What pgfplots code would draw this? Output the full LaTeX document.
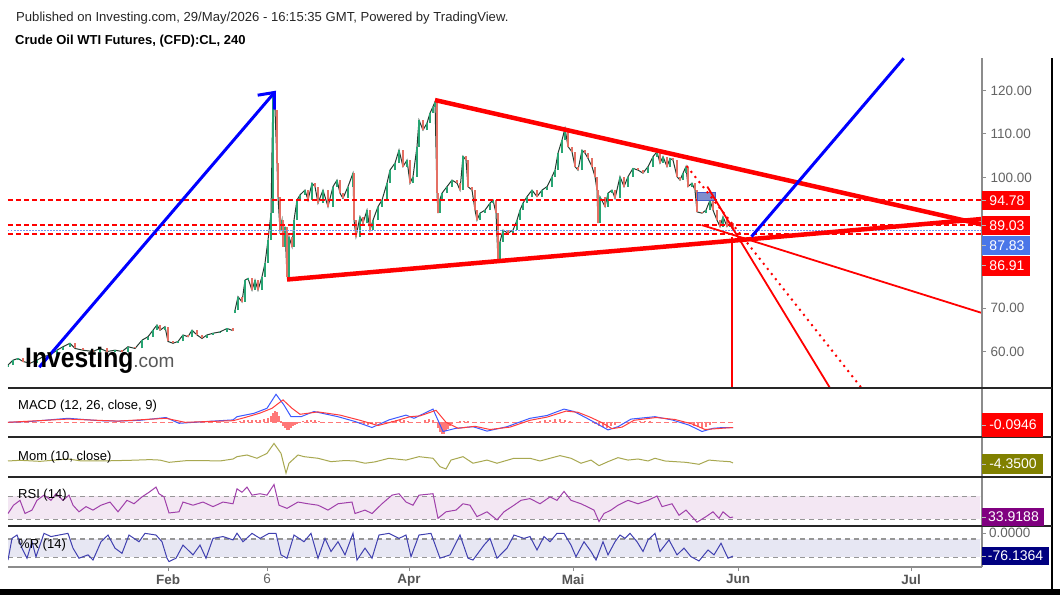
\documentclass[border=0pt]{standalone}
\usepackage{pgfplots}
\pgfplotsset{compat=1.18}
\usepackage{pgfplotstable}
\usepackage{fontspec}
\setmainfont{Liberation Sans}
\usetikzlibrary{arrows.meta}

\definecolor{cgreen}{RGB}{40,165,115}
\definecolor{cred}{RGB}{228,112,100}
\definecolor{wick}{RGB}{36,60,48}
\definecolor{axgrey}{RGB}{140,140,140}
\definecolor{ticklab}{RGB}{100,100,100}
\definecolor{datelab}{RGB}{85,85,85}
\definecolor{lblue}{RGB}{120,150,240}
\definecolor{boxblue}{RGB}{74,118,232}
\definecolor{macdblue}{RGB}{60,90,255}
\definecolor{macdred}{RGB}{255,60,60}
\definecolor{histred}{RGB}{255,120,120}
\definecolor{momcol}{RGB}{168,168,80}
\definecolor{momolive}{RGB}{128,128,0}
\definecolor{rsicol}{RGB}{160,64,170}
\definecolor{rsifill}{RGB}{243,231,243}
\definecolor{rsibox}{RGB}{128,0,128}
\definecolor{wrcol}{RGB}{64,64,176}
\definecolor{wrfill}{RGB}{231,231,243}
\definecolor{wrbox}{RGB}{0,0,128}
\definecolor{dashgrey}{RGB}{150,150,150}
\definecolor{rectfill}{RGB}{128,142,205}
\definecolor{rectedge}{RGB}{70,90,200}

% x = chart position (pixels from left), o = open, c = close
\pgfplotstableread{
x o c
8 56.5 56.9
13 56.9 58.0
18 58.0 58.4
23 58.4 57.7
30 57.7 57.3
37 57.3 58.0
43 58.0 58.8
50 58.8 59.2
57 59.2 60.3
63 60.3 61.1
70 61.1 61.9
75 61.9 60.7
83 60.7 60.3
93 60.3 60.0
100 60.0 60.7
107 60.7 60.0
115 60.0 60.3
122 60.3 60.0
128 60.0 61.1
135 61.1 60.7
142 60.7 62.6
148 62.6 63.4
153 63.4 64.9
157 64.9 66.1
160 66.1 64.9
165 64.9 65.7
168 65.7 62.3
173 62.3 61.9
178 61.9 62.3
183 62.3 63.8
188 63.8 63.4
192 63.4 64.9
197 64.9 63.8
202 63.8 63.0
207 63.0 63.8
213 63.8 64.2
220 64.2 64.5
227 64.5 65.3
233 65.3 64.8
}\candlesA

\pgfplotstableread{
x o c
235 68.8 69.5
238 69.5 72.6
242 72.6 71.4
245 71.4 76.4
248 76.4 76.8
252 76.8 74.1
255 74.1 76.4
258 76.4 74.1
262 74.1 77.2
265 77.2 80.3
268 80.3 85.6
271 85.6 91.8
273 91.8 119.7
275 119.7 115.5
277 115.5 103.3
278 103.3 95.6
280 95.6 87.9
282 87.9 90.2
283 90.2 84.1
285 84.1 88.7
287 88.7 77.2
289 77.2 86.4
292 86.4 84.1
294 84.1 90.2
297 90.2 94.8
300 94.8 96.0
305 96.0 97.1
308 97.1 94.8
312 94.8 98.7
315 98.7 97.9
318 97.9 94.1
323 94.1 97.1
328 97.1 93.3
333 93.3 97.9
337 97.9 99.4
340 99.4 96.4
343 96.4 95.2
348 95.2 97.9
353 97.9 101.0
354 101.0 90.2
356 90.2 86.4
360 86.4 91.0
363 91.0 89.5
367 89.5 92.5
370 92.5 87.9
373 87.9 90.2
378 90.2 93.3
382 93.3 94.8
387 94.8 98.7
390 98.7 101.7
395 101.7 103.3
399 103.3 106.3
403 106.3 102.5
407 102.5 104.0
410 104.0 98.7
413 98.7 100.2
417 100.2 107.1
419 107.1 113.2
423 113.2 110.9
427 110.9 112.5
430 112.5 114.8
433 114.8 116.3
435 116.3 117.4
437 117.4 96.4
438 96.4 91.8
440 91.8 95.0
442 95.0 96.4
447 96.4 97.9
452 97.9 99.4
457 99.4 98.7
460 98.7 97.1
463 97.1 104.9
466 104.9 104.0
468 104.0 97.9
472 97.9 97.1
475 97.1 92.5
477 92.5 90.2
480 90.2 91.8
485 91.8 92.5
490 92.5 94.1
493 94.1 94.8
496 94.8 91.8
498 91.8 81.0
500 81.0 85.2
503 85.2 87.9
508 87.9 87.2
513 87.2 87.9
517 87.9 90.2
520 90.2 92.5
523 92.5 94.1
527 94.1 95.6
532 95.6 97.1
537 97.1 95.6
542 95.6 97.1
547 97.1 97.9
552 97.9 100.2
555 100.2 101.7
558 101.7 105.6
562 105.6 108.6
565 108.6 111.3
568 111.3 107.1
572 107.1 105.9
575 105.9 102.5
578 102.5 101.7
582 101.7 106.3
585 106.3 105.6
588 105.6 104.4
592 104.4 102.5
595 102.5 100.2
597 100.2 97.1
598 97.1 89.5
600 89.5 95.6
605 95.6 93.3
608 93.3 96.4
612 96.4 97.1
615 97.1 95.2
620 95.2 100.2
624 100.2 97.9
628 97.9 100.2
633 100.2 102.1
638 102.1 101.7
643 101.7 101.0
648 101.0 102.5
653 102.5 104.8
657 104.8 105.9
660 105.9 103.3
663 103.3 104.8
667 104.8 102.5
670 102.5 104.4
673 104.4 104.0
677 104.0 100.2
680 100.2 99.4
683 99.4 101.0
686 101.0 102.5
688 102.5 97.9
692 97.9 98.7
695 98.7 97.1
697 97.1 92.1
702 92.1 91.8
706 91.8 92.5
710 92.5 94.8
713 94.8 92.5
717 92.5 90.2
720 90.2 88.7
723 88.7 91.0
727 91.0 88.7
730 88.7 89.5
733 89.5 87.8
}\candlesB

\pgfplotstableread{
x v
8 0
30 0.2
68 1.0
100 0.4
118 0.3
140 0.5
166 1.2
179 -0.25
200 0.1
233 0.6
237 1.4
254 2.25
267 3.5
276 7.0
284 4.3
291 1.4
301 1.4
314 2.7
338 1.4
355 0.2
372 -1.3
389 0.6
406 1.8
414 1.0
433 3.3
443 -2.3
456 -1.5
473 -1.1
487 -2.2
507 -1.1
530 1.0
547 1.7
564 3.3
574 2.7
587 1.0
598 -0.5
608 -1.9
618 -1.1
631 0.8
655 1.4
672 0.6
689 -0.7
702 -2.3
713 -1.5
723 -1.3
733 -1.3
}\macd

\pgfplotstableread{
x v
8 0
68 0.8
118 0.3
166 1.0
185 0
233 0.4
245 1.2
260 2.3
272 3.5
283 5.6
292 3.5
300 2.0
318 2.6
340 1.8
360 0.5
378 -0.8
395 0.3
410 1.4
420 1.6
436 3.0
446 0.0
458 -1.5
475 -1.0
490 -1.8
510 -1.2
530 0.5
547 1.3
566 2.8
578 2.5
590 1.3
602 -0.1
612 -1.6
622 -1.2
634 0.5
656 1.2
675 0.7
692 -0.4
705 -1.8
716 -1.6
733 -1.3
}\signal

\pgfplotstableread{
x v
240 0.3
244 0.5
248 0.6
252 0.7
256 0.5
260 0.6
264 0.8
268 1.0
271 1.6
273 2.4
275 2.8
277 2.5
279 1.6
281 0.3
283 -0.8
285 -1.4
287 -1.9
289 -1.8
291 -1.5
293 -1.0
295 -0.6
297 -0.3
303 0.3
307 0.5
311 0.6
315 0.5
319 0.3
360 -0.3
364 -0.5
368 -0.6
372 -0.5
376 -0.3
392 0.3
396 0.5
400 0.6
404 0.6
408 0.4
425 0.5
429 0.8
433 0.6
438 -1.5
440 -2.5
442 -3.0
444 -2.8
446 -2.2
448 -1.6
450 -1.0
452 -0.5
460 0.3
464 0.4
468 0.3
540 0.3
545 0.5
550 0.6
555 0.8
560 0.9
565 0.6
570 0.3
595 -0.4
599 -0.8
603 -1.2
607 -1.3
611 -1.0
615 -0.6
640 0.3
645 0.4
650 0.3
690 -0.5
694 -0.9
698 -1.2
702 -1.4
706 -1.1
710 -0.6
730 -0.1
}\histo

\pgfplotstableread{
x v
8 0
20 1.5
40 -0.8
68 4.4
80 0.5
101 0
130 1.5
150 3.0
160 2.0
169 -3
185 0.5
200 1
220 0
233 4.4
237 9.6
247 13.3
257 6
267 17
274 39
281 17
286 -27
289 -5
298 13.3
304 9.6
318 6
331 -1.5
345 1
355 0
365 -5
375 -2
389 6
406 2
419 9.6
433 6
440 -12.6
446 -17.8
451 2
463 9.6
473 -5
487 2
497 -5
514 6
530 6
540 0
550 6
560 11.9
571 6
581 -5
591 2
599 -10.4
608 -1.5
618 7.4
628 2
638 4.4
648 0
655 6
665 0
675 -1.5
686 -3
699 -7.4
709 2
719 0
730 -1.5
733 -4.35
}\mom

\pgfplotstableread{
x v
8 40
13.5 54.5
20 63
25 40
32 46
37 63
44 72
51 63
56 74.5
63 63
69 72
73 54.5
79 43
86 52
93 46
101 54.5
110 60
118 43
127 63
134 57
142 69
149 77
156 86
159 74.5
164 69
169 41
179 43
183 60
193 54.5
203 60
213 52
223 60
233 57
237 83
242 77
247 86
252 72
260 74.5
267 72
274 90.5
279 54.5
287 49
298 60
308 57
318 54.5
328 46
338 57
352 60
355 40
365 46
372 40
382 57
392 72
399 74.5
406 60
413 54.5
419 72
433 74.5
438 31.7
446 43
456 46
463 57
470 54.5
477 34.6
487 43
497 29
504 43
514 54.5
521 63
530 66
540 57
550 69
557 63
564 78.5
571 63
581 57
587 52
594 46
599 26
604 40
611 46
618 54.5
628 63
638 57
648 63
657 70.5
662 52
672 57
679 37
686 46
692 34.6
697 25
706 34.6
713 43
719 31.7
723 43
730 32.8
733 33.9
}\rsi

\pgfplotstableread{
x v
8 -89
12 -18
17 -7
22 -50
27 -83
32 -29
36 -78
44 -1.5
51 -12
59 -7
68 -1.5
73 -50
79 -83
88 -72
93 -89
101 -29
108 -7
115 -50
122 -67
129 -7
139 -29
145 -1.5
156 -7
162 -29
167 -83
169 -94
176 -83
183 -40
193 -72
200 -40
206 -83
213 -18
223 -12
233 -23
237 -1
243 -29
252 -1.5
260 -18
269 -1.5
276 -1.5
281 -72
287 -83
294 -7
304 -29
311 -1.5
318 -83
325 -18
331 -61
338 -29
345 -72
353 -1.5
357 -89
365 -50
372 -83
379 -7
389 -1.5
399 -18
406 -7
411 -78
419 -7
431 -1.5
440 -83
450 -72
460 -7
468 -83
473 -89
484 -40
490 -18
497 -83
507 -50
514 -7
524 -18
530 -12
537 -56
544 -12
550 -29
557 -1.5
564 -1.5
571 -40
576 -78
584 -29
591 -61
596 -89
603 -29
608 -72
615 -29
620 -7
625 -18
630 -1.5
637 -29
643 -61
648 -23
655 -1.5
660 -61
669 -23
677 -72
684 -50
691 -78
699 -92
708 -56
714 -72
721 -34
728 -83
733 -76
}\willr

\pgfplotsset{panel/.style={anchor=south west, scale only axis, width=974pt, xmin=8, xmax=982}}

\begin{document}
\begin{tikzpicture}[x=1pt,y=1pt]
\path[use as bounding box, fill=white] (0,0) rectangle (1060,595);

% ---------------- price panel ----------------
\begin{axis}[panel, at={(8pt,207pt)}, height=330pt,
  ymin=51.61, ymax=127.47,
  axis x line=none, axis y line*=right,
  axis line style={-, draw=axgrey, line width=1.3pt},
  ytick={60,70,100,110,120},
  ytick style={draw=axgrey, line width=1pt},
  tick align=outside, major tick length=4pt,
  yticklabel style={font=\fontsize{13.5}{15}\selectfont, text=ticklab, xshift=1pt},
  yticklabel={\pgfmathprintnumber[fixed,fixed zerofill,precision=2,assume math mode=true]{\tick}},
]
% candles
\addplot[wick, line width=1pt] table[x=x,y=c]{\candlesA};
\addplot[wick, line width=1pt] table[x=x,y=c]{\candlesB};
\addplot[draw=none, forget plot, restrict expr to domain={\thisrow{c}-\thisrow{o}}{0:200},
  error bars/.cd, y dir=plus, y explicit, error mark=none,
  error bar style={line width=2.2pt, draw=cgreen}]
  table[x=x, y=o, y error expr=\thisrow{c}-\thisrow{o}]{\candlesA};
\addplot[draw=none, forget plot, restrict expr to domain={\thisrow{o}-\thisrow{c}}{0.0001:200},
  error bars/.cd, y dir=plus, y explicit, error mark=none,
  error bar style={line width=2.2pt, draw=cred}]
  table[x=x, y=c, y error expr=\thisrow{o}-\thisrow{c}]{\candlesA};
\addplot[draw=none, forget plot, restrict expr to domain={\thisrow{c}-\thisrow{o}}{0:200},
  error bars/.cd, y dir=plus, y explicit, error mark=none,
  error bar style={line width=2.2pt, draw=cgreen}]
  table[x=x, y=o, y error expr=\thisrow{c}-\thisrow{o}]{\candlesB};
\addplot[draw=none, forget plot, restrict expr to domain={\thisrow{o}-\thisrow{c}}{0.0001:200},
  error bars/.cd, y dir=plus, y explicit, error mark=none,
  error bar style={line width=2.2pt, draw=cred}]
  table[x=x, y=c, y error expr=\thisrow{o}-\thisrow{c}]{\candlesB};
% horizontal levels
\addplot[red, line width=2pt, dash pattern=on 5pt off 3pt] coordinates {(8,94.78) (982,94.78)};
\addplot[red, line width=2pt, dash pattern=on 5pt off 3pt] coordinates {(8,89.03) (982,89.03)};
\addplot[red, line width=2pt, dash pattern=on 5pt off 3pt] coordinates {(8,86.91) (982,86.91)};
\addplot[lblue, line width=1.3pt, dash pattern=on 1.5pt off 1.5pt] coordinates {(8,87.83) (982,87.83)};
% blue box
\addplot[fill=rectfill, draw=rectedge, line width=1pt] coordinates {(697,94.8) (715,94.8) (715,96.6) (697,96.6)} -- cycle;
% triangle trend lines
\addplot[red, line width=4.5pt] coordinates {(435,117.8) (982,89.2)};
\addplot[red, line width=4.5pt] coordinates {(287,76.55) (982,90.46)};
% thin projection lines
\addplot[red, line width=1.8pt] coordinates {(731.7,86.4) (731.7,51.61)};
\addplot[red, line width=1.8pt] coordinates {(707.3,97.9) (830,51.61)};
\addplot[red, line width=2pt, dash pattern=on 2pt off 4.5pt] coordinates {(686.7,102.64) (861.5,51.61)};
\addplot[red, line width=1.8pt] coordinates {(701.7,89.08) (982,68.85)};
% blue arrows
\addplot[blue, line width=3pt, -{Straight Barb[length=13pt, width=22pt]}] coordinates {(39.3,56.4) (276,119.95)};
\addplot[blue, line width=3pt] coordinates {(751.5,86.4) (903.7,127.4)};
\end{axis}

% ---------------- MACD ----------------
\begin{axis}[panel, at={(8pt,158pt)}, height=49pt, ymin=-3.675, ymax=8.575, hide axis]
\addplot[histred, line width=1.5pt, dash pattern=on 5pt off 3pt] coordinates {(8,0) (733,0)};
\addplot[ycomb, histred, line width=2pt] table[x=x,y=v]{\histo};
\addplot[macdblue, line width=1pt] table[x=x,y=v]{\macd};
\addplot[macdred, line width=1pt] table[x=x,y=v]{\signal};
\end{axis}

% ---------------- Momentum ----------------
\begin{axis}[panel, at={(8pt,118pt)}, height=40pt, ymin=-35.6, ymax=53.3, hide axis]
\addplot[momcol, line width=1pt] table[x=x,y=v]{\mom};
\end{axis}

% ---------------- RSI ----------------
\begin{axis}[panel, at={(8pt,69pt)}, height=49pt, ymin=18.3, ymax=103.6, hide axis]
\addplot[fill=rsifill, draw=none] coordinates {(8,30) (980,30) (980,70) (8,70)} -- cycle;
\addplot[dashgrey, line width=1.2pt, dash pattern=on 5pt off 4pt] coordinates {(8,70) (980,70)};
\addplot[dashgrey, line width=1.2pt, dash pattern=on 5pt off 4pt] coordinates {(8,30) (980,30)};
\addplot[rsicol, line width=1pt] table[x=x,y=v]{\rsi};
\end{axis}

% ---------------- Williams %R ----------------
\begin{axis}[panel, at={(8pt,28pt)}, height=41pt, ymin=-111.8, ymax=22.6,
  axis x line*=bottom, axis y line=none,
  x axis line style={-, draw=axgrey, line width=1.3pt},
  xtick={168,267,409,573,738,911},
  xticklabels={\textbf{Feb},\textcolor{ticklab}{6},\textbf{Apr},\textbf{Mai},\textbf{Jun},\textbf{Jul}},
  xtick style={draw=axgrey, line width=1pt},
  tick align=outside, major tick length=4pt,
  xticklabel style={font=\fontsize{13.5}{15}\selectfont, text=datelab},
]
\addplot[fill=wrfill, draw=none] coordinates {(8,-80) (980,-80) (980,-20) (8,-20)} -- cycle;
\addplot[dashgrey, line width=1.2pt, dash pattern=on 5pt off 4pt] coordinates {(8,-20) (980,-20)};
\addplot[dashgrey, line width=1.2pt, dash pattern=on 5pt off 4pt] coordinates {(8,-80) (980,-80)};
\addplot[wrcol, line width=1pt] table[x=x,y=v]{\willr};
\end{axis}

% ---------------- frame ----------------
\draw[axgrey, line width=1.3pt] (982,28) -- (982,537);
\draw[black, line width=1.4pt] (1052,6) -- (1052,537);
\foreach \yy in {207,158,118,69} {\draw[black!85, line width=1.4pt] (8,\yy) -- (1052,\yy);}
\fill[black] (0,0) rectangle (1060,6);

% ---------------- value boxes ----------------
\def\boxfont{\fontsize{14}{16}\selectfont}
\fill[red] (982,385) rectangle (1030,404);
\node[text=white, font=\boxfont] at (1007,394.5) {94.78};
\fill[red] (982,360) rectangle (1030,379);
\node[text=white, font=\boxfont] at (1007,369.5) {89.03};
\fill[boxblue] (982,340) rectangle (1030,359);
\node[text=white, font=\boxfont] at (1007,349.5) {87.83};
\fill[red] (982,319) rectangle (1030,339);
\node[text=white, font=\boxfont] at (1007,329) {86.91};

\fill[red] (982,158) rectangle (1043,182);
\node[text=white, font=\boxfont] at (1013,170) {-0.0946};
\fill[momolive] (982,121) rectangle (1043,141);
\node[text=white, font=\boxfont] at (1013,131) {-4.3500};
\fill[rsibox] (982,69) rectangle (1044,87);
\node[text=white, font=\boxfont] at (1013.5,78) {33.9188};
\fill[wrbox] (982,30) rectangle (1049,48);
\node[text=white, font=\boxfont] at (1015.5,39) {-76.1364};
\draw[axgrey, line width=1pt] (982,62) -- (986,62);
\node[anchor=west, text=ticklab, font=\fontsize{13.5}{15}\selectfont, inner sep=0pt] at (989,62) {0.0000};
\foreach \yy in {394.5,369.5,349.5,329,170,131,78,39} {\draw[axgrey!60, line width=1pt] (982,\yy) -- (986,\yy);}

% ---------------- texts ----------------
\node[anchor=base west, inner sep=0pt, text=black!85, font=\fontsize{13.1}{15}\selectfont] at (16,573) {Published on Investing.com, 29/May/2026 - 16:15:35 GMT, Powered by TradingView.};
\node[anchor=base west, inner sep=0pt, font=\fontsize{13}{15}\selectfont\bfseries] at (15,550) {Crude Oil WTI Futures, (CFD):CL, 240};

\node[anchor=base west, inner sep=0pt, font=\fontsize{13}{15}\selectfont] at (18,185.5) {MACD (12, 26, close, 9)};
\node[anchor=base west, inner sep=0pt, font=\fontsize{13}{15}\selectfont] at (18,135) {Mom (10, close)};
\node[anchor=base west, inner sep=0pt, font=\fontsize{13}{15}\selectfont] at (18,96.5) {RSI (14)};
\node[anchor=base west, inner sep=0pt, font=\fontsize{13}{15}\selectfont] at (18,47) {\%R (14)};

% Investing.com logo
\node[anchor=base west, inner sep=0pt] at (25,227) {\scalebox{0.88}[1]{\fontsize{28}{30}\selectfont\bfseries Investing}\textcolor{black!65}{\fontsize{19}{20}\selectfont .com}};
\end{tikzpicture}
\end{document}
